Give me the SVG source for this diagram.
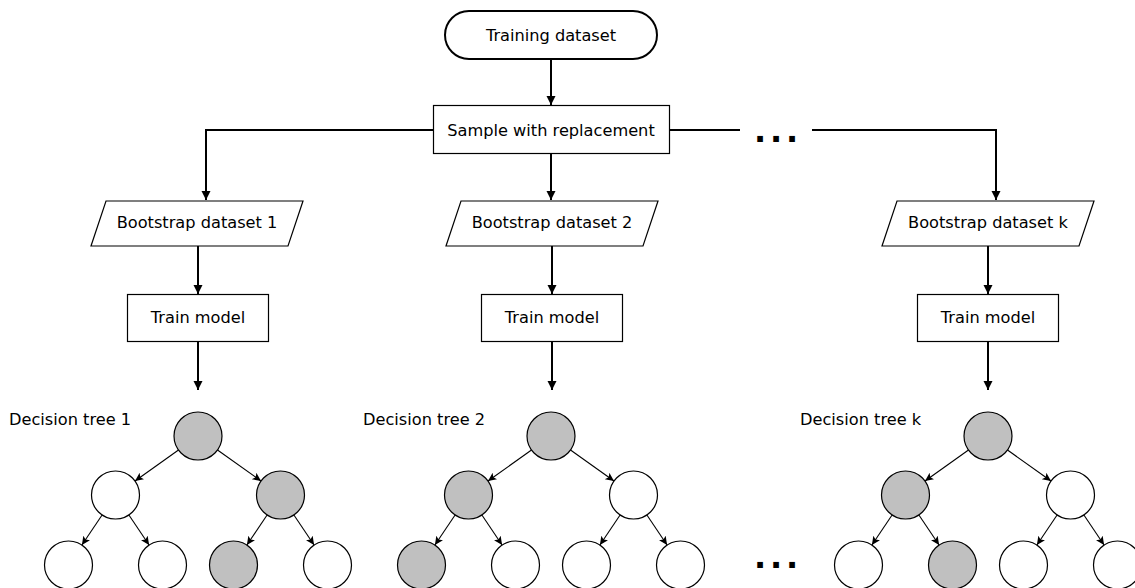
<svg xmlns="http://www.w3.org/2000/svg" width="1135" height="588" viewBox="0 0 1135 588">
<style>
text{font-family:"DejaVu Sans","Liberation Sans",sans-serif;font-size:16.2px;fill:#000}
.c{text-anchor:middle}
.box{fill:#fff;stroke:#000;stroke-width:1.2}
.term{fill:#fff;stroke:#000;stroke-width:2}
.n{fill:#fff;stroke:#000;stroke-width:1.2}
.g{fill:#c0c0c0;stroke:#000;stroke-width:1.2}
.main{fill:none;stroke:#000;stroke-width:2}
.te{fill:none;stroke:#000;stroke-width:1.1}
.dots{font-family:"DejaVu Sans",sans-serif;font-weight:bold;font-size:32px;letter-spacing:3.8px}
</style>
<defs>
<marker id="ah" markerUnits="userSpaceOnUse" markerWidth="10" markerHeight="10" refX="9" refY="4.5" orient="auto" viewBox="0 0 10 10">
<path d="M0,0 L9,4.5 L0,9 z" fill="#000"/>
</marker>
<marker id="sh" markerUnits="userSpaceOnUse" markerWidth="10" markerHeight="10" refX="8.5" refY="4" orient="auto" viewBox="0 0 10 10">
<path d="M0,0 L8.5,4 L0,8 L2,4 z" fill="#000"/>
</marker>
</defs>

<g id="connectors">
<path class="main" d="M551,59 V105" marker-end="url(#ah)"/>
<path class="main" d="M433,130 H206 V200" marker-end="url(#ah)"/>
<path class="main" d="M551,153 V200" marker-end="url(#ah)"/>
<path class="main" d="M669,130 H740"/>
<path class="main" d="M812,130 H996 V200" marker-end="url(#ah)"/>
<path class="main" d="M198,246 V294" marker-end="url(#ah)"/>
<path class="main" d="M552,246 V294" marker-end="url(#ah)"/>
<path class="main" d="M988,246 V294" marker-end="url(#ah)"/>
<path class="main" d="M198,341 V390" marker-end="url(#ah)"/>
<path class="main" d="M552,341 V390" marker-end="url(#ah)"/>
<path class="main" d="M988,341 V390" marker-end="url(#ah)"/>
<g transform="translate(198,0)">
<path class="te" d="M-19.5,450 L-63,481" marker-end="url(#sh)"/>
<path class="te" d="M19.5,450 L63,481" marker-end="url(#sh)"/>
<path class="te" d="M-95.9,515 L-116.1,545" marker-end="url(#sh)"/>
<path class="te" d="M-69.1,515 L-48.9,545" marker-end="url(#sh)"/>
<path class="te" d="M69.1,515 L48.9,545" marker-end="url(#sh)"/>
<path class="te" d="M95.9,515 L116.1,545" marker-end="url(#sh)"/>
</g>
<g transform="translate(551,0)">
<path class="te" d="M-19.5,450 L-63,481" marker-end="url(#sh)"/>
<path class="te" d="M19.5,450 L63,481" marker-end="url(#sh)"/>
<path class="te" d="M-95.9,515 L-116.1,545" marker-end="url(#sh)"/>
<path class="te" d="M-69.1,515 L-48.9,545" marker-end="url(#sh)"/>
<path class="te" d="M69.1,515 L48.9,545" marker-end="url(#sh)"/>
<path class="te" d="M95.9,515 L116.1,545" marker-end="url(#sh)"/>
</g>
<g transform="translate(988,0)">
<path class="te" d="M-19.5,450 L-63,481" marker-end="url(#sh)"/>
<path class="te" d="M19.5,450 L63,481" marker-end="url(#sh)"/>
<path class="te" d="M-95.9,515 L-116.1,545" marker-end="url(#sh)"/>
<path class="te" d="M-69.1,515 L-48.9,545" marker-end="url(#sh)"/>
<path class="te" d="M69.1,515 L48.9,545" marker-end="url(#sh)"/>
<path class="te" d="M95.9,515 L116.1,545" marker-end="url(#sh)"/>
</g>
</g>

<g id="training-dataset">
<rect class="term" x="445" y="11" width="212" height="48" rx="24"/>
<text class="c" x="551" y="41">Training dataset</text>
</g>
<g id="sample">
<rect class="box" x="433.5" y="105.5" width="236" height="48"/>
<text class="c" x="551" y="135.5">Sample with replacement</text>
</g>
<text id="dots-top" class="dots" x="754" y="142">...</text>

<g id="bootstrap-1">
<polygon class="box" points="106,201 303,201 288,246 91,246"/>
<text class="c" x="197" y="228">Bootstrap dataset 1</text>
</g>
<g id="bootstrap-2">
<polygon class="box" points="461,201 658,201 643,246 446,246"/>
<text class="c" x="552" y="228">Bootstrap dataset 2</text>
</g>
<g id="bootstrap-k">
<polygon class="box" points="897,201 1094,201 1079,246 882,246"/>
<text class="c" x="988" y="228">Bootstrap dataset k</text>
</g>

<g id="train-1">
<rect class="box" x="127.5" y="294.5" width="141" height="47"/>
<text class="c" x="198" y="322.5">Train model</text>
</g>
<g id="train-2">
<rect class="box" x="481.5" y="294.5" width="141" height="47"/>
<text class="c" x="552" y="322.5">Train model</text>
</g>
<g id="train-k">
<rect class="box" x="917.5" y="294.5" width="141" height="47"/>
<text class="c" x="988" y="322.5">Train model</text>
</g>

<g id="tree-1">
<text x="9" y="425">Decision tree 1</text>
<g id="t1-root"><circle class="g" cx="198" cy="436" r="24"/></g>
<g id="t1-l"><circle class="n" cx="115.5" cy="495" r="24"/></g>
<g id="t1-r"><circle class="g" cx="280.5" cy="495" r="24"/></g>
<g id="t1-ll"><circle class="n" cx="68.5" cy="565" r="24"/></g>
<g id="t1-lr"><circle class="n" cx="162.5" cy="565" r="24"/></g>
<g id="t1-rl"><circle class="g" cx="233.5" cy="565" r="24"/></g>
<g id="t1-rr"><circle class="n" cx="327.5" cy="565" r="24"/></g>
</g>
<g id="tree-2">
<text x="363" y="425">Decision tree 2</text>
<g id="t2-root"><circle class="g" cx="551" cy="436" r="24"/></g>
<g id="t2-l"><circle class="g" cx="468.5" cy="495" r="24"/></g>
<g id="t2-r"><circle class="n" cx="633.5" cy="495" r="24"/></g>
<g id="t2-ll"><circle class="g" cx="421.5" cy="565" r="24"/></g>
<g id="t2-lr"><circle class="n" cx="515.5" cy="565" r="24"/></g>
<g id="t2-rl"><circle class="n" cx="586.5" cy="565" r="24"/></g>
<g id="t2-rr"><circle class="n" cx="680.5" cy="565" r="24"/></g>
</g>
<g id="tree-k">
<text x="800" y="425">Decision tree k</text>
<g id="tk-root"><circle class="g" cx="988" cy="436" r="24"/></g>
<g id="tk-l"><circle class="g" cx="905.5" cy="495" r="24"/></g>
<g id="tk-r"><circle class="n" cx="1070.5" cy="495" r="24"/></g>
<g id="tk-ll"><circle class="n" cx="858.5" cy="565" r="24"/></g>
<g id="tk-lr"><circle class="g" cx="952.5" cy="565" r="24"/></g>
<g id="tk-rl"><circle class="n" cx="1023.5" cy="565" r="24"/></g>
<g id="tk-rr"><circle class="n" cx="1117.5" cy="565" r="24"/></g>
</g>
<text id="dots-bottom" class="dots" x="754" y="568">...</text>
</svg>
